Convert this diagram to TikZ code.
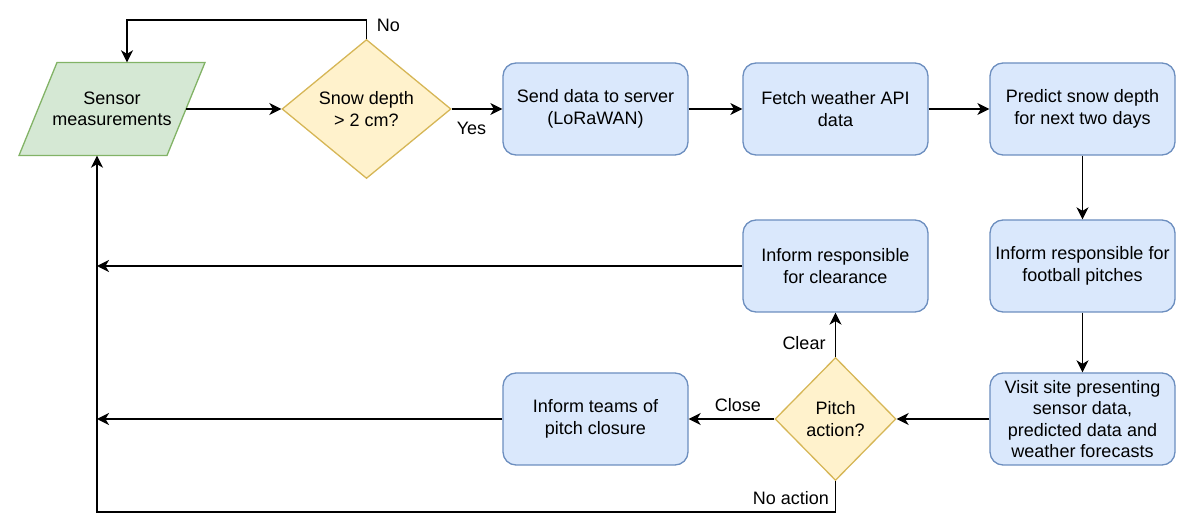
\documentclass[tikz,border=0pt]{standalone}
\usepackage{fontspec}
\setmainfont{Liberation Sans}
\usetikzlibrary{shapes.geometric,arrows.meta,calc}
\definecolor{gfill}{HTML}{D5E8D4}
\definecolor{gdraw}{HTML}{82B366}
\definecolor{yfill}{HTML}{FFF2CC}
\definecolor{ydraw}{HTML}{D6B656}
\definecolor{bfill}{HTML}{DAE8FC}
\definecolor{bdraw}{HTML}{6C8EBF}
\tikzset{
  txt/.style={font=\fontsize{18}{21.5}\selectfont, align=center},
  procbox/.style={txt, rectangle, rounded corners=13pt, fill=bfill, draw=bdraw, line width=1.3pt,
    minimum width=185pt, minimum height=92pt, inner sep=0pt},
  decis/.style={txt, diamond, fill=yfill, draw=ydraw, line width=1.3pt, inner sep=0pt},
  lbl/.style={txt, inner sep=0pt},
  arr/.style={line width=1.4pt, -{Stealth[length=12pt,width=12pt,inset=3.5pt]}},
}
\begin{document}
\begin{tikzpicture}[x=1pt,y=-1pt]
\useasboundingbox (0,0) rectangle (1200,526);
% input parallelogram
\coordinate (sc) at (112,109);
\path[fill=gfill, draw=gdraw, line width=1.3pt]
  ($(sc)+(-93,46.5)$) -- ($(sc)+(55,46.5)$) -- ($(sc)+(93,-46.5)$) -- ($(sc)+(-55,-46.5)$) -- cycle;
\node[txt, minimum width=148pt, minimum height=93pt, inner sep=0pt] (sensor) at (sc) {Sensor\\measurements};
% decisions
\node[decis, minimum width=169pt, minimum height=139pt] (d1) at (366.5,109) {Snow depth\\> 2 cm?};
\node[decis, minimum width=121pt, minimum height=123pt] (d2) at (835.5,419) {Pitch\\action?};
% process boxes
\node[procbox] (send) at (595.5,109) {Send data to server\\(LoRaWAN)};
\node[procbox] (fetch) at (835.5,109) {Fetch weather API\\data};
\node[procbox] (pred) at (1082.5,109) {Predict snow depth\\for next two days};
\node[procbox] (infp) at (1082.5,266) {Inform responsible for\\football pitches};
\node[procbox] (visit) at (1082.5,419) {Visit site presenting\\sensor data,\\predicted data and\\weather forecasts};
\node[procbox] (teams) at (595.5,419) {Inform teams of\\pitch closure};
\node[procbox] (clr) at (835.5,266) {Inform responsible\\for clearance};
% left return line
\coordinate (lx) at (97,512);
% connectors
\draw[arr] (sensor.east) -- (d1.west);
\draw[arr] (d1.east) -- (send.west);
\draw[arr] (d1.north) -- ++(0,-19) -| ([xshift=15pt]sensor.north);
\draw[arr] (send.east) -- (fetch.west);
\draw[arr] (fetch.east) -- (pred.west);
\draw[arr] (pred.south) -- (infp.north);
\draw[arr] (infp.south) -- (visit.north);
\draw[arr] (visit.west) -- (d2.east);
\draw[arr] (d2.west) -- (teams.east);
\draw[arr] (d2.north) -- (clr.south);
\draw[arr] (clr.west) -- (clr.west -| lx);
\draw[arr] (teams.west) -- (teams.west -| lx);
\draw[arr] (d2.south) |- (lx) -- (lx |- sensor.south);
% labels
\node[lbl] (lno) at (388.5,25) {No};
\node[lbl] (lyes) at (471.5,128) {Yes};
\node[lbl] (lclear) at (804,343) {Clear};
\node[lbl] (lclose) at (738,405) {Close};
\node[lbl] (lnoact) at (791,498) {No action};
\end{tikzpicture}
\end{document}
